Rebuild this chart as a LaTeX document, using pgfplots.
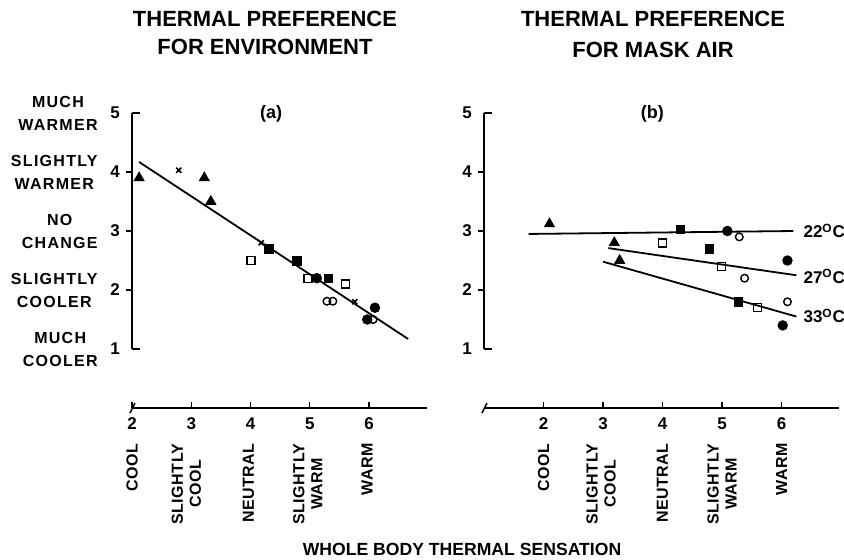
\documentclass[border=0pt]{standalone}
\usepackage{fontspec}
\setmainfont{Liberation Sans}
\newfontfamily\spaced{Liberation Sans}[LetterSpace=8]
\newfontfamily\tight{Liberation Sans}[LetterSpace=3]
\usepackage{pgfplots}
\pgfplotsset{compat=1.18}

\pgfplotsset{
  panel/.style={
    axis x line*=bottom, axis y line*=left,
    y axis line style={draw=none},
    ytick style={draw=none},
    x axis line style={line width=0.9pt},
    xtick style={line width=0.6pt, black},
    xtick align=inside, major tick length=3pt,
    ymin=0, ymax=5.2, y=29.5pt,
    ytick={1,2,3,4,5}, xtick={2,3,4,5,6},
    clip=false,
    /pgf/number format/assume math mode=true,
    ticklabel style={font=\bfseries\fontsize{8.5}{9}\selectfont},
    xticklabel style={yshift=-1.5pt},
    yticklabel style={xshift=-2.5pt},
    anchor=south west,
  },
  tri/.style={only marks, mark=triangle*, mark size=2.9pt, black},
  crs/.style={only marks, mark=x, mark size=1.8pt, black, line width=0.8pt},
  fsq/.style={only marks, mark=square*, mark size=2.1pt, black},
  osq/.style={only marks, mark=square, mark size=2.0pt, black, line width=0.7pt},
  fci/.style={only marks, mark=*, mark size=2.4pt, black},
  oci/.style={only marks, mark=o, mark size=1.9pt, black, line width=0.7pt},
  reg/.style={no marks, black, line width=0.9pt},
}
\tikzset{
  ylab/.style={anchor=east, align=center, inner sep=0.5pt, xshift=-16.5pt, font=\spaced\bfseries\fontsize{8}{11.5}\selectfont},
  xlab/.style={rotate=90, anchor=east, align=center, inner sep=1pt, font=\tight\bfseries\fontsize{8}{9}\selectfont},
  lt/.style={line width=0.7pt},
}

\begin{document}
\begin{tikzpicture}
\path[use as bounding box] (0,0) rectangle (422pt,279.5pt);

% titles
\node[align=center, font=\bfseries\fontsize{11}{14}\selectfont] at (132.5pt,263pt) {THERMAL PREFERENCE\\FOR ENVIRONMENT};
\node[align=center, font=\bfseries\fontsize{11}{15.5}\selectfont] at (326.5pt,262.2pt) {THERMAL PREFERENCE\\FOR MASK AIR};
\node[font=\bfseries\fontsize{8.8}{9}\selectfont] at (231pt,5pt) {WHOLE BODY THERMAL SENSATION};

% ---------------- panel (a)
\begin{axis}[panel, at={(66pt,75.5pt)}, xmin=2, xmax=6.98, x=29.625pt]
\addplot[tri] coordinates {(2.12,3.9) (3.22,3.9) (3.33,3.5)};
\addplot[crs] coordinates {(2.79,4.03) (4.18,2.8) (5.76,1.8)};
\addplot[fsq] coordinates {(4.31,2.7) (4.78,2.49) (5.31,2.2)};
\addplot[osq] coordinates {(4.01,2.5) (4.97,2.19) (5.6,2.1)};
\addplot[fci] coordinates {(5.12,2.2) (5.97,1.5) (6.1,1.7)};
\addplot[oci] coordinates {(5.29,1.81) (5.39,1.81) (6.07,1.5)};
\addplot[reg] coordinates {(2.12,4.17) (6.66,1.17)};
% y axis line and ticks
\draw[line width=0.9pt] (axis cs:2,1) -- (axis cs:2,5);
\draw[lt] (axis cs:2,5) -- ([xshift=4pt]axis cs:2,5);
\draw[lt] (axis cs:2,1) -- ([xshift=4pt]axis cs:2,1);
\draw[lt] (axis cs:2,2) -- ([xshift=-3pt]axis cs:2,2);
\draw[lt] (axis cs:2,3) -- ([xshift=-3pt]axis cs:2,3);
\draw[lt] (axis cs:2,4) -- ([xshift=-3pt]axis cs:2,4);
\draw[lt] ([xshift=-1pt,yshift=-2.5pt]axis cs:2,0) -- ([xshift=1.5pt,yshift=2.5pt]axis cs:2,0);
\node[font=\bfseries\fontsize{9}{9}\selectfont] at (axis cs:4.35,4.98) {(a)};
% y category labels
\node[ylab] at (axis cs:2,5) {MUCH\\WARMER};
\node[ylab] at (axis cs:2,4) {SLIGHTLY\\WARMER};
\node[ylab] at (axis cs:2,3) {NO\\CHANGE};
\node[ylab] at (axis cs:2,2) {SLIGHTLY\\COOLER};
\node[ylab] at (axis cs:2,1) {MUCH\\COOLER};
% x category labels
\node[xlab] at ([yshift=-16.5pt]axis cs:2,0) {COOL};
\node[xlab] at ([xshift=-2.5pt,yshift=-16.5pt]axis cs:3,0) {SLIGHTLY\\COOL};
\node[xlab] at ([xshift=-1pt,yshift=-16.5pt]axis cs:4,0) {NEUTRAL};
\node[xlab] at ([xshift=-1pt,yshift=-16.5pt]axis cs:5,0) {SLIGHTLY\\WARM};
\node[xlab] at ([xshift=-1pt,yshift=-16.5pt]axis cs:6,0) {WARM};
\end{axis}

% ---------------- panel (b)
\begin{axis}[panel, at={(242pt,75.5pt)}, xmin=1, xmax=6.96, x=29.75pt]
\addplot[tri] coordinates {(2.1,3.12) (3.19,2.8) (3.28,2.5)};
\addplot[fsq] coordinates {(4.3,3.03) (4.79,2.7) (5.28,1.8)};
\addplot[osq] coordinates {(4.0,2.8) (4.99,2.4) (5.6,1.7)};
\addplot[fci] coordinates {(5.09,3.0) (6.1,2.5) (6.02,1.4)};
\addplot[oci] coordinates {(5.29,2.9) (5.38,2.2) (6.1,1.8)};
\addplot[reg] coordinates {(1.75,2.95) (6.2,3.0)};
\addplot[reg] coordinates {(3.09,2.71) (6.25,2.25)};
\addplot[reg] coordinates {(3.0,2.48) (6.25,1.55)};
\draw[line width=0.9pt] (axis cs:1,1) -- (axis cs:1,5);
\draw[lt] (axis cs:1,5) -- ([xshift=4pt]axis cs:1,5);
\draw[lt] (axis cs:1,1) -- ([xshift=4pt]axis cs:1,1);
\draw[lt] (axis cs:1,2) -- ([xshift=-3pt]axis cs:1,2);
\draw[lt] (axis cs:1,3) -- ([xshift=-3pt]axis cs:1,3);
\draw[lt] (axis cs:1,4) -- ([xshift=-3pt]axis cs:1,4);
\draw[lt] ([xshift=-1pt,yshift=-2.5pt]axis cs:1,0) -- ([xshift=1.5pt,yshift=2.5pt]axis cs:1,0);
\node[font=\bfseries\fontsize{9}{9}\selectfont] at (axis cs:3.83,4.98) {(b)};
\node[anchor=west, font=\bfseries\fontsize{8.5}{9}\selectfont, inner sep=1pt] at (axis cs:6.33,3.0) {22\textsuperscript{O}C};
\node[anchor=west, font=\bfseries\fontsize{8.5}{9}\selectfont, inner sep=1pt] at (axis cs:6.33,2.23) {27\textsuperscript{O}C};
\node[anchor=west, font=\bfseries\fontsize{8.5}{9}\selectfont, inner sep=1pt] at (axis cs:6.33,1.56) {33\textsuperscript{O}C};
\node[xlab] at ([yshift=-16.5pt]axis cs:2,0) {COOL};
\node[xlab] at ([xshift=-1pt,yshift=-16.5pt]axis cs:3,0) {SLIGHTLY\\COOL};
\node[xlab] at ([yshift=-16.5pt]axis cs:4,0) {NEUTRAL};
\node[xlab] at ([yshift=-16.5pt]axis cs:5,0) {SLIGHTLY\\WARM};
\node[xlab] at ([yshift=-16.5pt]axis cs:6,0) {WARM};
\end{axis}
\end{tikzpicture}
\end{document}
